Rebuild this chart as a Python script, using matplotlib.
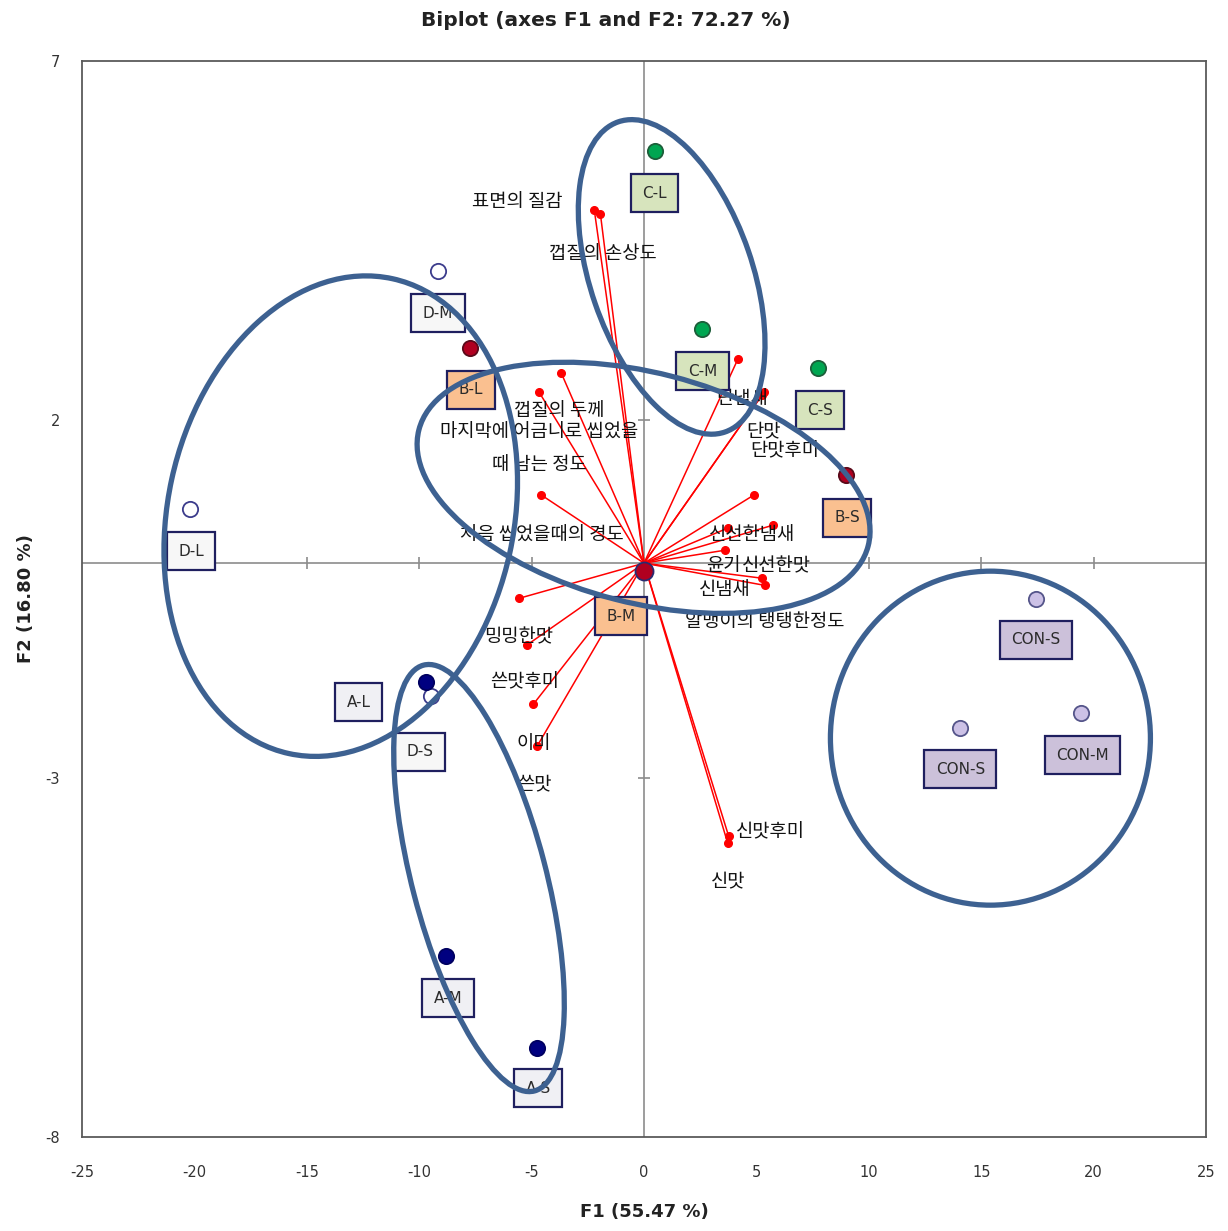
import numpy as np
import matplotlib
matplotlib.use("Agg")
import matplotlib.pyplot as plt
from matplotlib.patches import Ellipse
from matplotlib.transforms import Affine2D, ScaledTranslation

plt.rcParams["font.family"] = ["DejaVu Sans", "Noto Sans CJK KR"]
plt.rcParams["axes.unicode_minus"] = False
KR = ["Noto Sans CJK KR", "DejaVu Sans"]

# ---- observations: F1 / F2 scores ----
obs_names = ["C-L", "C-M", "C-S", "B-L", "B-M", "B-S", "D-L", "D-M", "D-S",
             "A-L", "A-M", "A-S", "CON-S", "CON-S", "CON-M"]
obs_group = ["C", "C", "C", "B", "B", "B", "D", "D", "D",
             "A", "A", "A", "CON", "CON", "CON"]
obs_f1 = [0.51, 2.56, 7.74, -7.74, 0.0, 8.99, -20.2, -9.16, -9.48,
          -9.7, -8.8, -4.75, 17.42, 14.07, 19.42]
obs_f2 = [5.74, 3.26, 2.72, 3.0, -0.11, 1.23, 0.75, 4.07, -1.85,
          -1.66, -5.48, -6.76, -0.50, -2.30, -2.09]

# ---- variables: loadings (biplot scale) ----
var_names = ["표면의 질감", "껍질의 손상도", "껍질의 두께",
             "마지막에 어금니로 씹었을\n때 남는 정도", "처음 씹었을때의 경도",
             "단냄새", "단맛", "단맛후미", "신선한냄새", "윤기", "신선한맛",
             "신냄새", "알맹이의 탱탱한정도", "",
             "밍밍한맛", "쓴맛후미", "이미", "쓴맛", "신맛후미", "신맛"]
var_f1 = [-2.21, -1.94, -3.68, -4.66, -4.57, 4.17, 5.33, 5.24, 4.89, 3.74,
          5.75, 3.6, 5.24, 5.37, -5.55, -5.2, -4.93, -4.75, 3.76, 3.72]
var_f2 = [4.92, 4.87, 2.65, 2.38, 0.95, 2.84, 2.38, 2.34, 0.95, 0.49,
          0.53, 0.18, -0.21, -0.31, -0.49, -1.14, -1.97, -2.55, -3.8, -3.9]

x_ticks = [-25, -20, -15, -10, -5, 0, 5, 10, 15, 20, 25]
y_ticks = [7, 2, -3, -8]

# ---- styling ----
group_style = {
    "C":   dict(fc="#00a651", ec="#1d5e3a", box="#d7e4bd"),
    "B":   dict(fc="#b00020", ec="#5a0a1a", box="#fac090"),
    "D":   dict(fc="#ffffff", ec="#3c3c8c", box="#f7f7f7"),
    "A":   dict(fc="#000080", ec="#000060", box="#f0f0f4"),
    "CON": dict(fc="#ccc1e6", ec="#55558a", box="#ccc1da"),
}
# label offsets (pixels) relative to the point they describe
obs_label_off = [(-1, -42), (1, -42), (2, -42), (1, -42), (-23, -45), (1, -43),
                 (1, -42), (0, -42), (-11, -56), (-67, -20), (2, -42), (1, -40),
                 (0, -41), (0, -41), (2, -42)]
var_label_off = [(-77, 9), (2, -40), (-2, -37), (0, -56), (1, -40),
                 (4, -39), (0, -38), (23, -56), (-2, -40), (-5, -38), (3, -41),
                 (0, -39), (3, -43), (0, 0),
                 (-1, -39), (-2, -37), (1, -39), (-3, -38), (42, 4), (1, -39)]
# group ellipses: centre (F1, F2), semi-axes in pixels, angle in degrees
ellipses = [
    ((1.23, 3.99), 164, 81, -71),
    ((-0.02, 1.05), 232, 115, -14.5),
    ((-13.49, 0.655), 243, 173, 77.7),
    ((-7.34, -4.39), 220, 67, -75.4),
    ((15.41, -2.44), 167, 160, 90),
]

W, H, DPI = 1228, 1231, 100
fig = plt.figure(figsize=(W / DPI, H / DPI), dpi=DPI)
ax = fig.add_axes([82 / W, (H - 1137) / H, 1124 / W, 1076 / H])
ax.set_xlim(-25, 25)
ax.set_ylim(-8, 7)

# zero axes with small cross ticks
ax.axhline(0, color="#8c8c8c", lw=1.2, zorder=1)
ax.axvline(0, color="#8c8c8c", lw=1.2, zorder=1)
ax.plot(x_ticks[1:-1], [0] * (len(x_ticks) - 2), ls="none", marker="|",
        ms=9, mew=1.2, color="#8c8c8c", zorder=1)
ax.plot([0] * (len(y_ticks) - 2), y_ticks[1:-1], ls="none", marker="_",
        ms=9, mew=1.2, color="#8c8c8c", zorder=1)

# variable vectors
for n, vx, vy, off in zip(var_names, var_f1, var_f2, var_label_off):
    ax.plot([0, vx], [0, vy], color="#ff0000", lw=1.1, zorder=2)
    ax.plot(vx, vy, "o", color="#ff0000", ms=5.5, zorder=3)
    if n:
        ax.annotate(n, (vx, vy), xytext=(off[0] * 0.72, off[1] * 0.72),
                    textcoords="offset points", ha="center", va="center",
                    fontsize=13.5, family=KR, color="#111111", zorder=4,
                    linespacing=1.75)

# observations
for n, g, ox, oy, off in zip(obs_names, obs_group, obs_f1, obs_f2, obs_label_off):
    st = group_style[g]
    size = 13 if n == "B-M" else 11
    ec = "#2a2a70" if n == "B-M" else st["ec"]
    ax.plot(ox, oy, "o", ms=size, mfc=st["fc"], mec=ec, mew=1.3, zorder=5)
    ax.annotate(n, (ox, oy), xytext=(off[0] * 0.72, off[1] * 0.72),
                textcoords="offset points", ha="center", va="center",
                fontsize=11, color="#2b2b2b", zorder=6,
                bbox=dict(boxstyle="square,pad=0.75", fc=st["box"],
                          ec="#1f1f5f", lw=1.6))

# group ellipses (drawn in screen pixels around a data-space centre)
for (cx, cy), a, b, ang in ellipses:
    tr = Affine2D() + ScaledTranslation(cx, cy, ax.transData)
    e = Ellipse((0, 0), 2 * a, 2 * b, angle=ang, transform=tr, fill=False,
                ec="#3d6191", lw=3.8, zorder=8)
    ax.add_patch(e)

ax.set_xticks(x_ticks)
ax.set_yticks(y_ticks)
ax.tick_params(length=0, labelsize=10.5, colors="#333333")
ax.tick_params(axis="x", pad=20)
ax.tick_params(axis="y", pad=16)
for s in ax.spines.values():
    s.set_color("#5a5a5a")
    s.set_linewidth(1.3)

ax.set_xlabel("F1 (55.47 %)", fontsize=13, fontweight="bold", labelpad=17,
              color="#222222")
ax.set_ylabel("F2 (16.80 %)", fontsize=13, fontweight="bold", labelpad=7,
              color="#222222")
fig.text(606 / W, 1 - 20 / H, "Biplot (axes F1 and F2: 72.27 %)",
         fontsize=14.5, fontweight="bold", color="#222222",
         ha="center", va="center")

fig.savefig("out.png", dpi=DPI)
